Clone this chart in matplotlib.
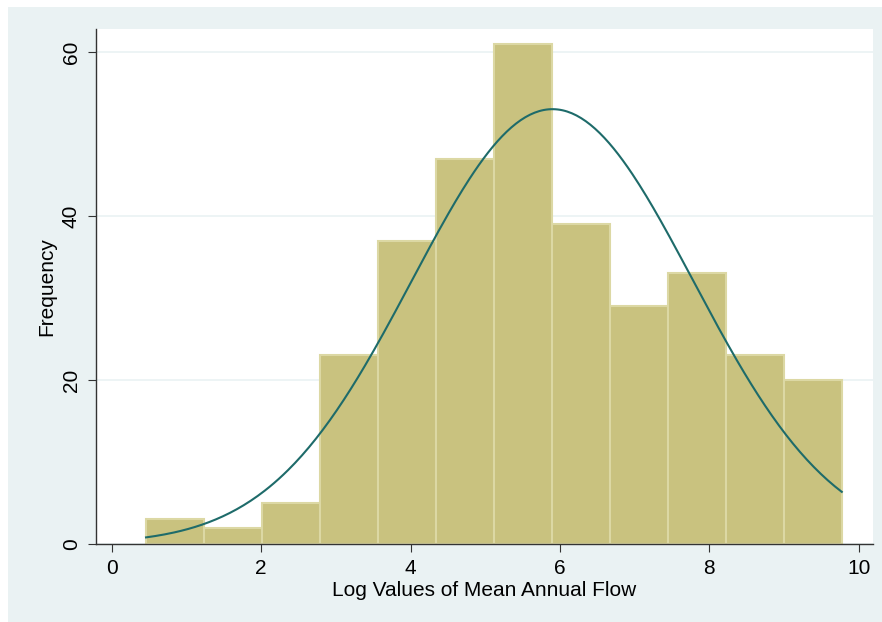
import numpy as np
import matplotlib
matplotlib.use('Agg')
import matplotlib.pyplot as plt
from matplotlib.patches import Rectangle

# histogram of log mean annual flow (12 bins)
bin_start = 0.46
bin_width = 0.776
counts = [3, 2, 5, 23, 37, 47, 61, 39, 29, 33, 23, 20]

# normal curve overlay
mu = 5.9
sigma = 1.88

x_ticks = [0, 2, 4, 6, 8, 10]
y_ticks = [0, 20, 40, 60]

plt.rcParams['font.family'] = ['Liberation Sans', 'DejaVu Sans']

W, H = 882, 622
fig = plt.figure(figsize=(W / 100, H / 100), dpi=100, facecolor='white')
fig.patches.append(Rectangle((8 / W, 0), 1, 1 - 7 / H, transform=fig.transFigure,
                             facecolor='#eaf2f3', edgecolor='none', zorder=-10))

ax = fig.add_axes([96 / W, 1 - 544 / H, (873 - 96) / W, (544 - 29) / H])
ax.set_facecolor('white')

edges = bin_start + bin_width * np.arange(len(counts) + 1)
ax.bar(edges[:-1], counts, width=bin_width, align='edge', color='#c9c27f',
       edgecolor='#dcd8a4', linewidth=1.5, zorder=2)

n = sum(counts)
xs = np.linspace(edges[0], edges[-1], 300)
ys = n * bin_width / (sigma * np.sqrt(2 * np.pi)) * np.exp(-0.5 * ((xs - mu) / sigma) ** 2)
ax.plot(xs, ys, color='#1e6b6a', linewidth=1.5, zorder=3)

ax.set_xlim(-0.21, 10.19)
ax.set_ylim(0, 62.8)
ax.set_xticks(x_ticks)
ax.set_yticks(y_ticks)
ax.yaxis.grid(True, color='#eaf2f3', linewidth=1.2, zorder=0)
ax.set_axisbelow(True)

for s in ['top', 'right']:
    ax.spines[s].set_visible(False)
for s in ['left', 'bottom']:
    ax.spines[s].set_color('#333333')
    ax.spines[s].set_linewidth(1.0)

ax.tick_params(axis='both', labelsize=15, length=6, color='#333333', pad=5)
for lab in ax.get_yticklabels():
    lab.set_rotation(90)
    lab.set_va('center')

ax.set_xlabel('Log Values of Mean Annual Flow', fontsize=15, labelpad=2)
ax.set_ylabel('Frequency', fontsize=15, labelpad=4)

fig.savefig('out.png', dpi=100)
